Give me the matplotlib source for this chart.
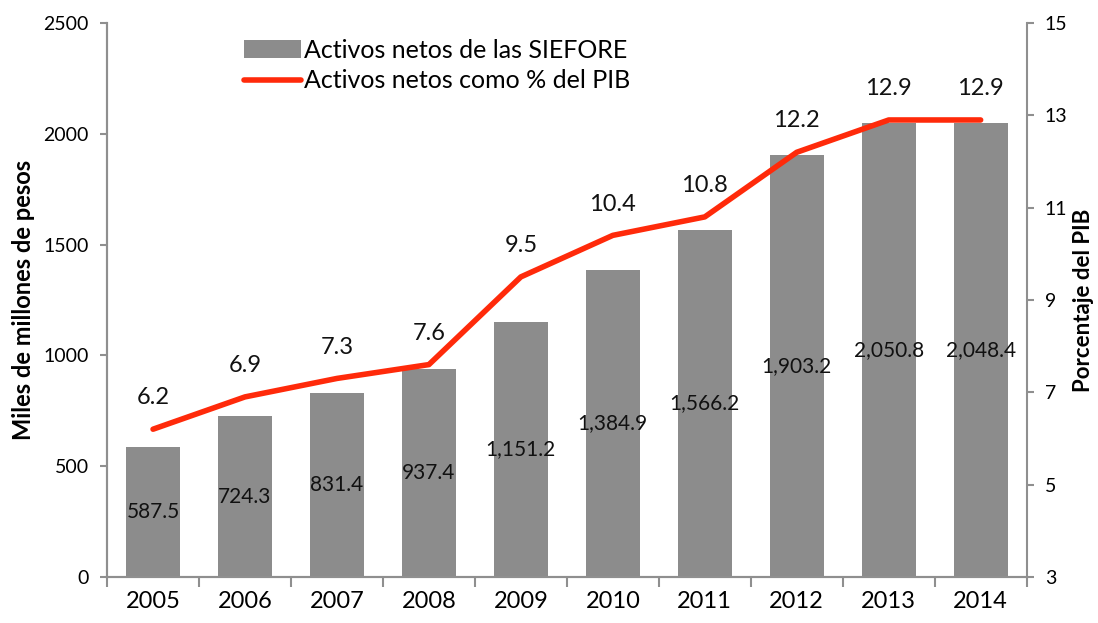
import matplotlib.pyplot as plt
import numpy as np

plt.rcParams['font.family'] = ['Lato', 'DejaVu Sans']

years = ["2005", "2006", "2007", "2008", "2009", "2010", "2011", "2012", "2013", "2014"]
activos = [587.5, 724.3, 831.4, 937.4, 1151.2, 1384.9, 1566.2, 1903.2, 2050.8, 2048.4]
pct_pib = [6.2, 6.9, 7.3, 7.6, 9.5, 10.4, 10.8, 12.2, 12.9, 12.9]

BAR_COLOR = "#8c8c8c"
LINE_COLOR = "#ff2a0a"
SPINE_COLOR = "#8f8f8f"

fig = plt.figure(figsize=(10.98, 6.23), dpi=100)
ax = fig.add_axes([0.0975, 0.074, 0.8375, 0.889])
ax2 = ax.twinx()

x = np.arange(len(years))
bars = ax.bar(x, activos, width=0.59, color=BAR_COLOR, label="Activos netos de las SIEFORE", zorder=2)
for xi, v in zip(x, activos):
    ax.text(xi, v / 2, f"{v:,.1f}", ha="center", va="center", fontsize=15, color="#111111", zorder=3)

line, = ax2.plot(x, pct_pib, color=LINE_COLOR, lw=4, solid_capstyle="round",
                 label="Activos netos como % del PIB", zorder=4)
for xi, v in zip(x, pct_pib):
    ax2.annotate(f"{v}", xy=(xi, v), xytext=(0, 15), textcoords="offset points",
                 ha="center", va="bottom", fontsize=17, color="#111111")

ax.set_xlim(-0.5, len(years) - 0.5)
ax.set_ylim(0, 2500)
ax.set_yticks(range(0, 2501, 500))
ax2.set_ylim(3, 15)
ax2.set_yticks(range(3, 16, 2))

ax.set_xticks(x)
ax.set_xticklabels(years, fontsize=17)
ax.set_xticks(np.arange(-0.5, len(years), 1), minor=True)
ax.tick_params(axis="x", which="major", length=0, pad=10)
ax.tick_params(axis="x", which="minor", length=7, color=SPINE_COLOR, width=1.5)
ax.tick_params(axis="y", labelsize=14, length=5, color=SPINE_COLOR, width=1.5, pad=8)
ax2.tick_params(axis="y", labelsize=14, length=5, color=SPINE_COLOR, width=1.5, pad=8)

for a in (ax, ax2):
    a.spines["top"].set_visible(False)
    for s in ("left", "right", "bottom"):
        a.spines[s].set_color(SPINE_COLOR)
        a.spines[s].set_linewidth(1.5)
ax.spines["right"].set_visible(False)

ax.set_ylabel("Miles de millones de pesos", fontsize=17, fontweight="bold", labelpad=6)
ax2.set_ylabel("Porcentaje del PIB", fontsize=16, fontweight="bold", labelpad=4)

ax.legend([bars, line], [bars.get_label(), line.get_label()], loc="upper left",
          bbox_to_anchor=(0.124, 1.012), frameon=False, fontsize=18,
          handlelength=2.3, handletextpad=0.1, labelspacing=0.3)

fig.savefig("out.png", dpi=100)
